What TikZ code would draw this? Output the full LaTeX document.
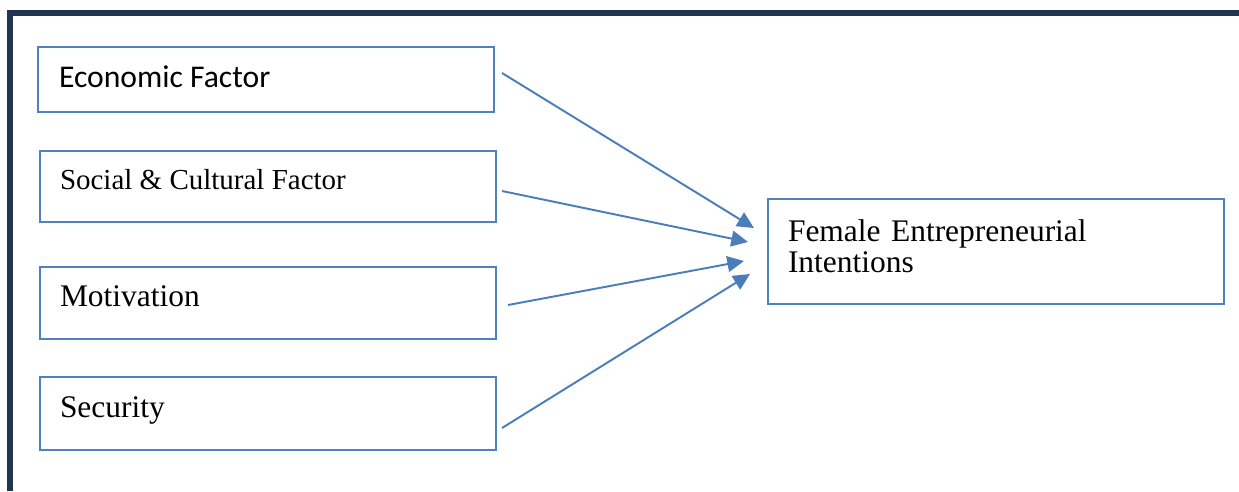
\documentclass[tikz,border=0pt]{standalone}
\usepackage{fontspec}
\setmainfont{Liberation Serif}
\newfontfamily\calibrifont{Carlito}
\usepackage{xcolor}
\usepackage{tikz}
\usetikzlibrary{arrows.meta, positioning, calc}
\definecolor{fiFrame}{HTML}{1F3550}
\definecolor{fiBox}{HTML}{4F81BD}
\definecolor{fiArrow}{HTML}{4A7EBB}
\tikzset{
  fi-box/.style={
    rectangle, draw=fiBox, line width=0.8pt, fill=white,
    inner sep=0pt, outer sep=0pt, minimum width=9.12cm, anchor=north west
  },
  fi-text/.style={
    anchor=base west, inner sep=0pt, outer sep=0pt,
    font=\fontsize{17.9}{17.75}\selectfont
  },
  fi-flow/.style={-{Triangle[length=9.5pt, width=9pt]}, line width=1.1pt, draw=fiArrow},
  fi-frame/.style={draw=fiFrame, line width=3.1pt},
}
\begin{document}
\begin{tikzpicture}[x=0.02cm, y=-0.02cm]
  \useasboundingbox (0,0) rectangle (1239,491);
  % outer frame (only top and left edge show)
  \draw[fi-frame] (10,491) -- (10,13) -- (1239,13);

  % factor boxes
  \node[fi-box, minimum height=1.30cm] (econ)   at (38,47)  {};
  \node[fi-box, minimum height=1.42cm] (social) at (40,151) {};
  \node[fi-box, minimum height=1.44cm] (motiv)  at (40,267) {};
  \node[fi-box, minimum height=1.46cm] (secur)  at (40,377) {};
  \node[fi-box, minimum height=2.10cm] (fei)    at (768,199) {};

  \node[fi-text, font=\calibrifont\fontsize{18}{21}\selectfont] (econ-lbl)
    at ($(econ.north west)+(21,40)$) {Economic Factor};
  \node[fi-text, font=\fontsize{16.5}{19}\selectfont] (social-lbl)
    at ($(social.north west)+(20,38)$) {Social \& Cultural Factor};
  \node[fi-text] (motiv-lbl) at ($(motiv.north west)+(20,39.7)$) {Motivation};
  \node[fi-text] (secur-lbl) at ($(secur.north west)+(20,40)$) {Security};
  \node[fi-text, text width=8cm, align=left] (fei-lbl)
    at ($(fei.north west)+(20,42.7)$) {Female Entrepreneurial\\Intentions};

  % arrow ends
  \coordinate (e1s) at (502,73);  \coordinate (e1t) at (754,228);
  \coordinate (e2s) at (502,191); \coordinate (e2t) at (748,242);
  \coordinate (e3s) at (508,305); \coordinate (e3t) at (744,261);
  \coordinate (e4s) at (502,428); \coordinate (e4t) at (750,274);

  \draw[fi-flow] (e1s) -- (e1t);
  \draw[fi-flow] (e2s) -- (e2t);
  \draw[fi-flow] (e3s) -- (e3t);
  \draw[fi-flow] (e4s) -- (e4t);
\end{tikzpicture}
\end{document}
